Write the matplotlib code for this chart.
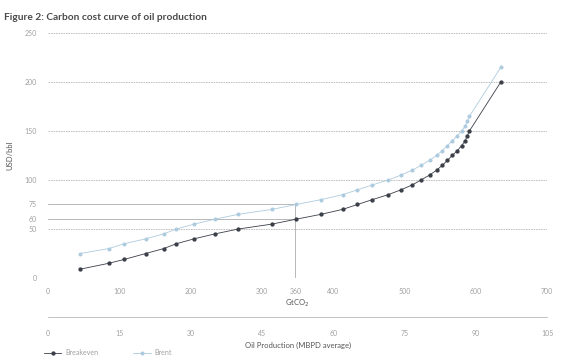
import matplotlib
matplotlib.use("Agg")
import matplotlib.pyplot as plt
from matplotlib.lines import Line2D

# cumulative emissions (GtCO2) and cost of each tranche (USD/bbl)
gtco2 = [45, 85, 107, 137, 162, 180, 205, 234, 267, 314, 348, 383, 413, 434, 455,
         477, 495, 511, 523, 535, 545, 553, 560, 567, 574, 580, 585, 588, 591, 635]
breakeven = [9, 15, 19, 25, 30, 35, 40, 45, 50, 55, 60, 65, 70, 75, 80,
             85, 90, 95, 100, 105, 110, 115, 120, 125, 130, 135, 140, 145, 150, 200]
brent = [25, 30, 35, 40, 45, 50, 55, 60, 65, 70, 75, 80, 85, 90, 95,
         100, 105, 110, 115, 120, 125, 130, 135, 140, 145, 150, 155, 160, 165, 215]

y_ticks = [0, 50, 60, 75, 100, 150, 200, 250]
x_ticks = [0, 100, 200, 300, 347, 400, 500, 600, 700]
x_labels = ["0", "100", "200", "300", "360", "400", "500", "600", "700"]
mbpd_ticks = [0, 15, 30, 45, 60, 75, 90, 105]

# budget markers: 360 GtCO2 label, breakeven 60 / brent 75
budget_x = 347
budget_levels = [60, 75]

DARK = "#3b3f48"
BLUE = "#adcbde"
GRID = "#b8b8b8"
TICK = "#a0a0a0"

plt.rcParams["font.family"] = ["Lato", "DejaVu Sans"]

fig = plt.figure(figsize=(5.79, 3.62), dpi=100)
ax = fig.add_axes([0.083, 0.232, 0.862, 0.677])

for y in [0, 50, 100, 150, 200, 250]:
    ax.axhline(y, color=GRID, linewidth=0.6, linestyle=(0, (2, 1)), zorder=1)
for y in budget_levels:
    ax.plot([0, budget_x], [y, y], color=GRID, linewidth=0.7, zorder=1)
ax.plot([budget_x, budget_x], [0, max(budget_levels)], color=GRID, linewidth=0.7, zorder=1)

ax.plot(gtco2, brent, color=BLUE, linewidth=0.6, marker="o", markersize=1.9, zorder=3)
ax.plot(gtco2, breakeven, color=DARK, linewidth=0.6, marker="o", markersize=2.1, zorder=4)

ax.set_xlim(0, 700)
ax.set_ylim(0, 250)
ax.set_yticks(y_ticks)
ax.set_xticks(x_ticks)
ax.set_xticklabels(x_labels)
for s in ax.spines.values():
    s.set_visible(False)
ax.tick_params(length=0, labelsize=5, colors=TICK, pad=7)
ax.tick_params(axis="y", pad=8)
ax.set_xlabel("GtCO$_2$", fontsize=5.5, color="#555555", labelpad=2)
ax.set_ylabel("USD/bbl", fontsize=5.5, color="#555555", labelpad=8)

# secondary production axis
ax2 = fig.add_axes([0.083, 0.124, 0.862, 0.0001])
ax2.set_xlim(0, 105)
ax2.set_xticks(mbpd_ticks)
ax2.set_yticks([])
for k in ["top", "left", "right"]:
    ax2.spines[k].set_visible(False)
ax2.spines["bottom"].set_color(GRID)
ax2.spines["bottom"].set_linewidth(0.6)
ax2.spines["bottom"].set_linestyle((0, (2, 1)))
ax2.tick_params(length=0, labelsize=5, colors=TICK, pad=9)
ax2.set_xlabel("Oil Production (MBPD average)", fontsize=5.5, color="#555555", labelpad=4)

fig.text(0.007, 0.953, "Figure 2: Carbon cost curve of oil production",
         fontsize=7.3, fontweight="bold", color="#4a4a4a", va="center")

handles = [
    Line2D([], [], color=DARK, linewidth=0.6, marker="o", markersize=2.1),
    Line2D([], [], color=BLUE, linewidth=0.6, marker="o", markersize=1.9),
]
fig.legend(handles, ["Breakeven", "Brent"], loc="center left", bbox_to_anchor=(0.065, 0.025),
           ncol=2, frameon=False, fontsize=5, labelcolor=TICK, handlelength=2.5,
           columnspacing=5, handletextpad=0.6)

fig.savefig("out.png", dpi=100)
